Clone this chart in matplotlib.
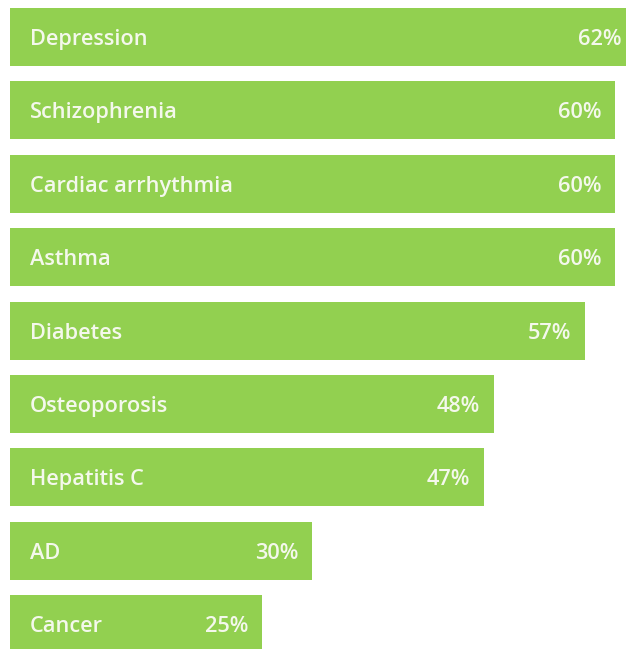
import matplotlib
matplotlib.use("Agg")
import matplotlib.pyplot as plt

categories = ["Depression", "Schizophrenia", "Cardiac arrhythmia", "Asthma",
              "Diabetes", "Osteoporosis", "Hepatitis C", "AD", "Cancer"]
values = [62, 60, 60, 60, 57, 48, 47, 30, 25]
value_labels = ["62%", "60%", "60%", "60%", "57%", "48%", "47%", "30%", "25%"]

bar_color = "#92D050"
text_color = "#F4F8EC"

fig = plt.figure(figsize=(6.26, 6.49), dpi=100)
ax = fig.add_axes([0, 0, 1, 1])

ypos = list(range(len(categories)))
ax.barh(ypos, values, height=0.79, color=bar_color, left=0)

px_per_unit = 10.086
text_dy = 2.5 / 73.4
for y, name, v, lab in zip(ypos, categories, values, value_labels):
    ax.text(20 / px_per_unit, y + text_dy, name, color=text_color, fontsize=15.7,
            family="Open Sans", weight="semibold", va="center", ha="left")
    ax.text(v - 14 / px_per_unit, y + text_dy, lab, color=text_color, fontsize=15.7,
            family="Open Sans", weight="semibold", va="center", ha="right")

ax.set_xlim(-9.86 / px_per_unit, (626 - 9.86) / px_per_unit)
ax.set_ylim(8.338, -0.504)
ax.axis("off")

fig.savefig("out.png", dpi=100, facecolor="white")
